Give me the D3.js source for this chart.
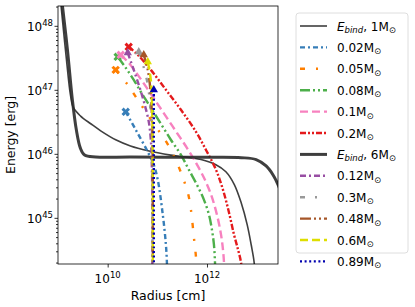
<!DOCTYPE html>
<html>
<head>
<meta charset="utf-8">
<script src="https://cdn.jsdelivr.net/npm/d3@7"></script>
<style>
  body { margin: 0; background: #fff; }
  svg { font-family: "DejaVu Sans", sans-serif; }
</style>
</head>
<body>
<div id="chart"></div>
<script>
/* Binding energy vs radius */

const xTicks = [1e10, 1e12];
const yTicks = [1e45, 1e46, 1e47, 1e48];

// E_bind curves (radius [cm], energy [erg])
const bind1R = [1.07e9, 1.23e9, 1.48e9, 1.78e9, 2.04e9, 2.85e9, 4.57e9, 7.24e9, 1.45e10, 2.88e10, 6.46e10, 1.86e11, 7.59e11, 1.51e12, 2.40e12, 3.55e12, 4.90e12, 6.46e12, 7.76e12, 8.91e12, 9.33e12];
const bind1E = [3.63e48, 1.23e48, 2.95e47, 8.32e46, 5.25e46, 3.89e46, 2.95e46, 2.29e46, 1.66e46, 1.33e46, 1.12e46, 9.55e45, 8.13e45, 6.76e45, 5.25e45, 3.31e45, 1.70e45, 7.76e44, 3.80e44, 2.0e44, 1.0e44];
const bind6R = [1.12e9, 1.23e9, 1.55e9, 1.95e9, 2.34e9, 2.82e9, 3.43e9, 5.75e9, 2.88e10, 7.59e11, 4.90e12, 9.77e12, 1.55e13, 2.14e13, 2.69e13, 3.47e13];
const bind6E = [3.63e48, 2.04e48, 4.22e47, 6.92e46, 2.37e46, 1.23e46, 9.55e45, 8.91e45, 8.91e45, 8.81e45, 8.71e45, 8.13e45, 6.46e45, 4.68e45, 3.31e45, 1.91e45];

// ejecta curves, first point is the marker
const m002R = [2.31e10, 3.68e10, 6.43e10, 8.49e10, 1.02e11, 1.29e11, 1.49e11, 1.56e11, 1.58e11];
const m002E = [4.53e46, 2.37e46, 1.07e46, 6.73e45, 3.93e45, 1.11e45, 3.78e44, 1.98e44, 1.07e44];
const m005R = [1.45e10, 2.54e10, 3.68e10, 5.86e10, 9.33e10, 1.35e11, 1.87e11, 2.59e11, 3.27e11, 4.13e11, 4.75e11, 5.46e11, 6.00e11, 6.31e11];
const m005E = [2.05e47, 1.20e47, 7.78e46, 4.53e46, 2.64e46, 1.78e46, 1.15e46, 6.73e45, 4.22e45, 2.45e45, 1.33e45, 4.87e44, 2.45e44, 1.29e44];
const m008R = [1.59e10, 2.31e10, 3.35e10, 4.65e10, 7.40e10, 1.18e11, 1.87e11, 2.99e11, 4.33e11, 6.28e11, 8.69e11, 1.10e12, 1.26e12, 1.38e12, 1.45e12, 1.48e12];
const m008E = [3.28e47, 2.21e47, 1.43e47, 9.31e46, 5.24e46, 2.94e46, 1.66e46, 9.64e45, 5.62e45, 3.28e45, 1.91e45, 1.11e45, 6.46e44, 3.80e44, 2.0e44, 1.07e44];
const m01R = [1.83e10, 2.65e10, 4.04e10, 6.14e10, 9.77e10, 1.56e11, 2.48e11, 3.94e11, 6.00e11, 8.69e11, 1.21e12, 1.59e12, 1.92e12, 2.10e12, 2.20e12, 2.24e12];
const m01E = [3.52e47, 2.64e47, 1.71e47, 1.07e47, 6.27e46, 3.65e46, 2.13e46, 1.24e46, 7.23e45, 4.22e45, 2.29e45, 1.11e45, 5.42e44, 3.16e44, 1.98e44, 1.07e44];
const m02R = [2.65e10, 4.04e10, 7.40e10, 1.49e11, 2.99e11, 6.00e11, 9.55e11, 1.52e12, 2.10e12, 2.78e12, 3.51e12, 4.23e12, 4.86e12, 5.13e12];
const m02E = [4.70e47, 3.52e47, 2.05e47, 1.0e47, 4.87e46, 2.21e46, 1.15e46, 5.62e45, 2.74e45, 1.20e45, 5.42e44, 3.16e44, 1.98e44, 1.07e44];
const m012R = [2.54e10, 3.35e10, 4.43e10, 5.58e10, 6.73e10, 7.40e10, 7.74e10, 7.93e10, 7.93e10];
const m012E = [3.78e47, 2.05e47, 1.07e47, 5.83e46, 3.16e46, 1.66e46, 6.73e45, 1.91e45, 1.07e44];
const m03R = [4.23e10, 5.86e10, 7.05e10, 7.74e10, 7.93e10];
const m03E = [3.93e47, 1.71e47, 6.98e46, 2.37e46, 1.07e44];
const m048R = [5.33e10, 6.43e10, 7.40e10, 7.93e10, 8.11e10];
const m048E = [3.52e47, 2.05e47, 8.35e46, 2.37e46, 1.07e44];
const m06R = [6.43e10, 7.40e10, 7.93e10, 8.11e10];
const m06E = [2.74e47, 1.43e47, 3.40e46, 1.07e44];
const m089R = [8.49e10, 8.49e10, 8.49e10];
const m089E = [1.0e47, 1.0e46, 1.07e44];

const series = [
  { mass: "1", bind: true, r: bind1R, e: bind1E, color: "#2a2a2a", width: 1.6 },
  { mass: "0.02", r: m002R, e: m002E, color: "#377eb8", dash: "5,3,2,3", marker: "x" },
  { mass: "0.05", r: m005R, e: m005E, color: "#ff7f00", dash: "5,11,2,11", marker: "x" },
  { mass: "0.08", r: m008R, e: m008E, color: "#4daf4a", dash: "10,3,2,3,2,3", marker: "x" },
  { mass: "0.1", r: m01R, e: m01E, color: "#f781bf", dash: "8,4", marker: "x" },
  { mass: "0.2", r: m02R, e: m02E, color: "#e41a1c", dash: "6,2,2,2,2,2", marker: "x" },
  { mass: "6", bind: true, r: bind6R, e: bind6E, color: "#2a2a2a", width: 3 },
  { mass: "0.12", r: m012R, e: m012E, color: "#984ea3", dash: "6,3,2,3", marker: "t" },
  { mass: "0.3", r: m03R, e: m03E, color: "#999999", dash: "5,10,2,10", marker: "t" },
  { mass: "0.48", r: m048R, e: m048E, color: "#a65628", dash: "11,3,2,3,2,3", marker: "t" },
  { mass: "0.6", r: m06R, e: m06E, color: "#dede00", dash: "8,4", marker: "t" },
  { mass: "0.89", r: m089R, e: m089E, color: "#0000b0", dash: "2,2.6", marker: "t" }
];

const width = 415, height = 307;
const margin = { top: 6, right: 137, bottom: 43, left: 58 };

const svg = d3.select("#chart").append("svg")
  .attr("width", width)
  .attr("height", height);

const x = d3.scaleLog()
  .domain([1e9, 2.69e13])
  .range([margin.left, width - margin.right]);

const y = d3.scaleLog()
  .domain([1.9e44, 2.04e48])
  .range([height - margin.bottom, margin.top]);

svg.append("clipPath").attr("id", "plot-clip")
  .append("rect")
  .attr("x", margin.left).attr("y", margin.top)
  .attr("width", width - margin.left - margin.right)
  .attr("height", height - margin.top - margin.bottom);

const line = d3.line()
  .x(d => x(d[0]))
  .y(d => y(d[1]))
  .curve(d3.curveCatmullRom.alpha(0.5));

const plot = svg.append("g").attr("clip-path", "url(#plot-clip)");

series.forEach(s => {
  const pts = s.r.map((r, i) => [r, s.e[i]]);
  plot.append("path")
    .datum(pts)
    .attr("d", line)
    .attr("fill", "none")
    .attr("stroke", s.color)
    .attr("stroke-width", s.width || 2.4)
    .attr("stroke-dasharray", s.dash || null)
    .attr("opacity", s.bind ? 0.9 : 1);
});

// markers at the start of each ejecta curve
series.filter(s => s.marker).forEach(s => {
  const sym = s.marker === "x"
    ? d3.symbol(d3.symbolCross, 45)
    : d3.symbol(d3.symbolTriangle, 30);
  plot.append("path")
    .attr("d", sym)
    .attr("transform", `translate(${x(s.r[0])},${y(s.e[0])})` + (s.marker === "x" ? " rotate(45)" : ""))
    .attr("fill", s.color);
});

// axes
const xAxis = svg.append("g")
  .attr("transform", `translate(0,${height - margin.bottom})`)
  .call(d3.axisBottom(x).tickValues(xTicks).tickSize(3.5).tickFormat(""));

const yAxis = svg.append("g")
  .attr("transform", `translate(${margin.left},0)`)
  .call(d3.axisLeft(y).tickValues(yTicks).tickSize(3.5).tickFormat(""));

// minor ticks on y
const yMinor = [];
[44, 45, 46, 47, 48].forEach(p => {
  for (let k = 2; k <= 9; k++) {
    const v = k * Math.pow(10, p);
    if (v >= y.domain()[0] && v <= y.domain()[1]) yMinor.push(v);
  }
});
svg.append("g")
  .attr("transform", `translate(${margin.left},0)`)
  .call(d3.axisLeft(y).tickValues(yMinor).tickSize(2).tickFormat(""))
  .call(g => g.select(".domain").remove());

[xAxis, yAxis].forEach(a => a.selectAll(".domain").remove());

svg.selectAll(".tick line").attr("stroke", "#000").attr("stroke-width", 0.8);

// frame
svg.append("rect")
  .attr("x", margin.left).attr("y", margin.top)
  .attr("width", width - margin.left - margin.right)
  .attr("height", height - margin.top - margin.bottom)
  .attr("fill", "none")
  .attr("stroke", "#000")
  .attr("stroke-width", 0.8);

// tick labels
const powLabel = (g, v, px, py, anchor) => {
  const t = g.append("text")
    .attr("x", px).attr("y", py)
    .attr("text-anchor", anchor)
    .attr("font-size", 12)
    .attr("fill", "#000");
  t.append("tspan").text("10");
  t.append("tspan").attr("dy", -5).attr("font-size", 8.5).text(Math.round(Math.log10(v)));
};

xTicks.forEach(v => powLabel(svg, v, x(v), height - margin.bottom + 19, "middle"));
yTicks.forEach(v => powLabel(svg, v, margin.left - 5, y(v) + 5, "end"));

svg.append("text")
  .attr("x", (margin.left + width - margin.right) / 2)
  .attr("y", height - 7)
  .attr("text-anchor", "middle")
  .attr("font-size", 12.5)
  .text("Radius [cm]");

svg.append("text")
  .attr("transform", `translate(15,${(margin.top + height - margin.bottom) / 2}) rotate(-90)`)
  .attr("text-anchor", "middle")
  .attr("font-size", 12.5)
  .text("Energy [erg]");

// legend
const legend = svg.append("g");
legend.append("rect")
  .attr("x", 296).attr("y", 13)
  .attr("width", 112).attr("height", 240)
  .attr("rx", 3)
  .attr("fill", "#fff")
  .attr("stroke", "#d5d5d5")
  .attr("stroke-width", 0.8);

series.forEach((s, i) => {
  const ly = 26 + i * 21.4;
  legend.append("line")
    .attr("x1", 300).attr("x2", 327)
    .attr("y1", ly).attr("y2", ly)
    .attr("stroke", s.color)
    .attr("stroke-width", s.width || 2.4)
    .attr("stroke-dasharray", s.dash || null)
    .attr("opacity", s.bind ? 0.9 : 1);
  const t = legend.append("text")
    .attr("x", 337).attr("y", ly + 4.5)
    .attr("font-size", 12);
  if (s.bind) {
    t.append("tspan").attr("font-style", "italic").text("E");
    t.append("tspan").attr("font-style", "italic").attr("font-size", 8.5).attr("dy", 2.5).text("bind");
    t.append("tspan").attr("dy", -2.5).text(`, ${s.mass}M`);
  } else {
    t.append("tspan").text(`${s.mass}M`);
  }
  t.append("tspan").attr("font-size", 8.5).attr("dy", 2.5).text("\u2299");
});
</script>
</body>
</html>
